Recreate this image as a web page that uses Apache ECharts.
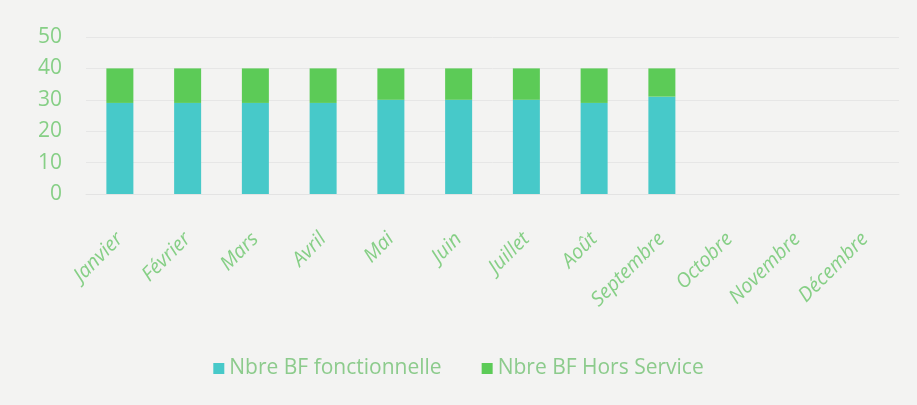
<!DOCTYPE html>
<html lang="fr">
<head>
  <meta charset="UTF-8">
  <title>Nbre BF</title>
  <script src="https://cdn.jsdelivr.net/npm/echarts@6/dist/echarts.min.js"></script>
  <style>
    body { margin: 0; padding: 0; background: #f3f3f2; }
    #chart { width: 917px; height: 405px; }
  </style>
</head>
<body>
  <div id="chart"></div>
  <script>
    // mois
    var months = ['Janvier', 'Février', 'Mars', 'Avril', 'Mai', 'Juin', 'Juillet',
      'Août', 'Septembre', 'Octobre', 'Novembre', 'Décembre'];
    // Nbre BF fonctionnelle
    var fonctionnelle = [29, 29, 29, 29, 30, 30, 30, 29, 31, null, null, null];
    // Nbre BF Hors Service
    var horsService = [11, 11, 11, 11, 10, 10, 10, 11, 9, null, null, null];
    var yTicks = [0, 10, 20, 30, 40, 50];

    var labelColor = '#86cf86';
    var chart = echarts.init(document.getElementById('chart'));

    var option = {
      backgroundColor: '#f3f3f2',
      animation: false,
      grid: { left: 86, right: 18, top: 37, bottom: 211 },
      legend: {
        bottom: 21,
        left: 'center',
        itemWidth: 11,
        itemHeight: 11,
        itemGap: 40,
        icon: 'rect',
        textStyle: { color: '#8ccb8c', fontSize: 21, fontFamily: 'Open Sans' },
        data: ['Nbre BF fonctionnelle', 'Nbre BF Hors Service']
      },
      xAxis: {
        type: 'category',
        data: months,
        axisLine: { show: true, lineStyle: { color: '#e3e3e3' } },
        axisTick: { show: false },
        axisLabel: {
          rotate: 45,
          interval: 0,
          margin: 42,
          color: labelColor,
          fontSize: 20,
          fontStyle: 'italic',
          fontFamily: 'Open Sans'
        }
      },
      yAxis: {
        type: 'value',
        min: yTicks[0],
        max: yTicks[yTicks.length - 1],
        interval: 10,
        axisLine: { show: false },
        axisTick: { show: false },
        splitLine: { lineStyle: { color: '#e6e6e6' } },
        axisLabel: { color: labelColor, fontSize: 21, margin: 24, fontFamily: 'Open Sans' }
      },
      series: [
        {
          name: 'Nbre BF fonctionnelle',
          type: 'bar',
          stack: 'bf',
          barWidth: 27,
          itemStyle: { color: '#47c9c9' },
          data: fonctionnelle
        },
        {
          name: 'Nbre BF Hors Service',
          type: 'bar',
          stack: 'bf',
          barWidth: 27,
          itemStyle: { color: '#5ccb57' },
          data: horsService
        }
      ]
    };

    chart.setOption(option);
  </script>
</body>
</html>
